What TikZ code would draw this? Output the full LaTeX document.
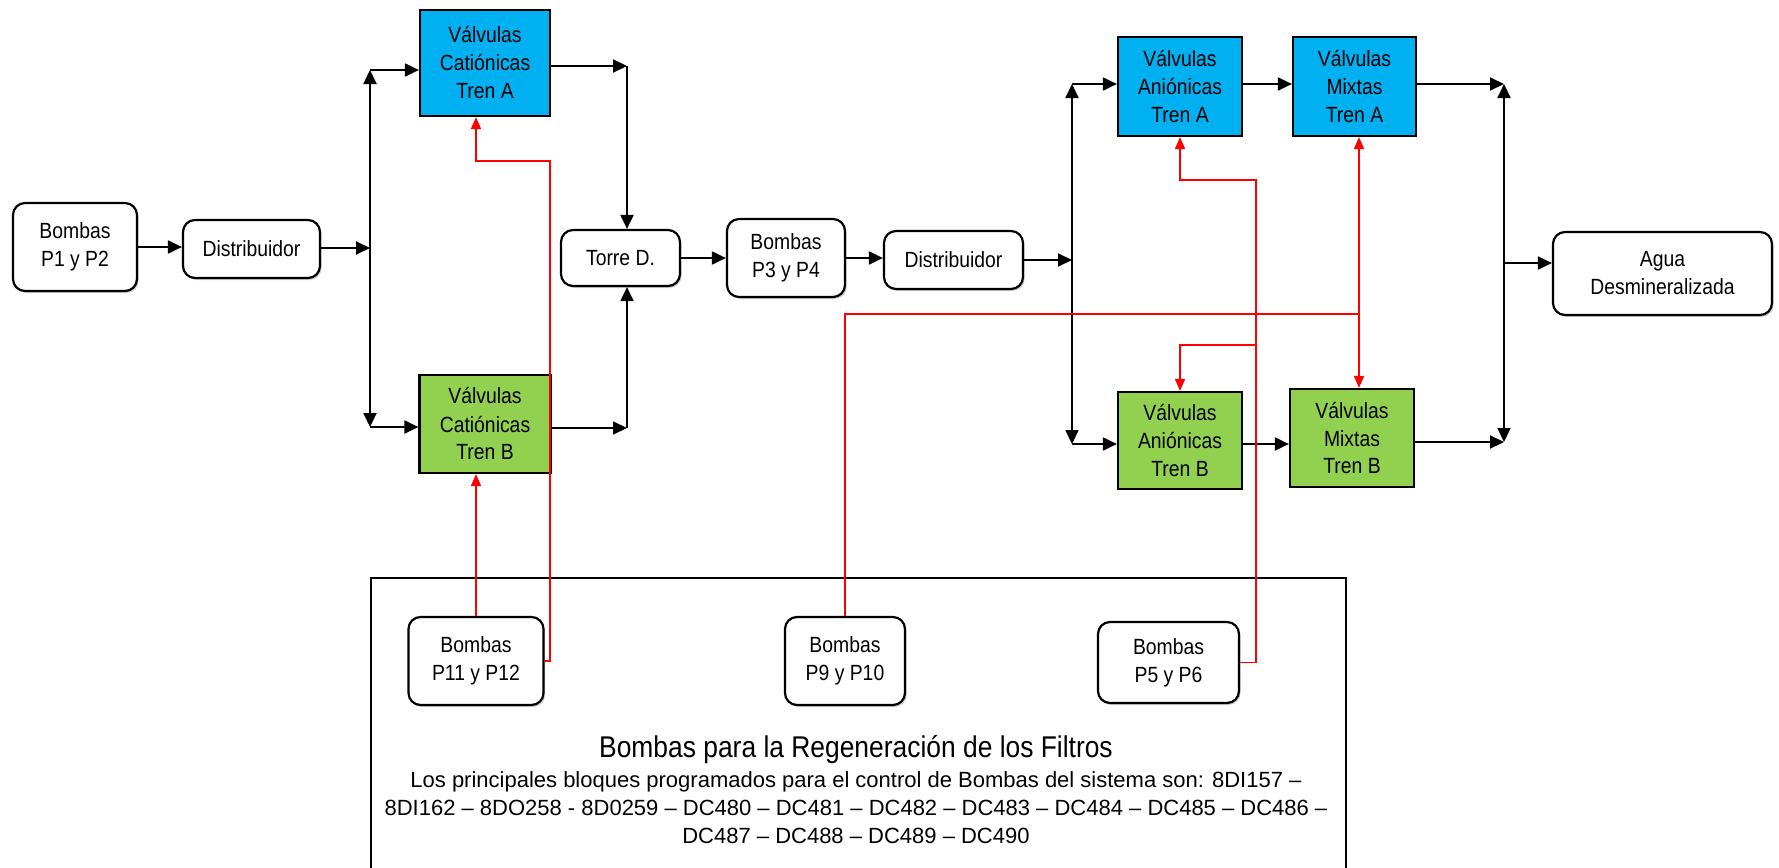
\documentclass[tikz,border=0pt]{standalone}
\usepackage{fontspec}
\setmainfont{Liberation Sans}[FakeStretch=0.88]
\newfontfamily\anchaf{Liberation Sans}
\usetikzlibrary{arrows.meta,shadows}
\definecolor{trenA}{HTML}{00B0F0}
\definecolor{trenB}{HTML}{92D050}
\begin{document}
\begin{tikzpicture}[x=0.5pt,y=-0.5pt,
  font=\fontsize{11}{14}\selectfont,
  caja/.style={draw,line width=1.1pt,rounded corners=6pt,fill=white,align=center,inner sep=0pt,
    drop shadow={shadow xshift=0.8pt,shadow yshift=-1pt,opacity=.4}},
  valv/.style={draw,line width=1.1pt,align=center,inner sep=0pt},
  flecha/.style={line width=1pt,-{Triangle[length=7pt,width=6.5pt]}},
  rlinea/.style={red,line width=0.8pt},
  rflecha/.style={rlinea,-{Triangle[length=6pt,width=5pt]}}]
  \useasboundingbox (0,0) rectangle (1779,868);
  \node[caja,minimum width=62pt,minimum height=44pt] (b12) at (75,247) {Bombas\\P1 y P2};
  \node[caja,minimum width=68.5pt,minimum height=29pt] (dist1) at (251.5,249) {Distribuidor};
  \node[valv,fill=trenA,minimum width=65pt,minimum height=53pt] (catA) at (485,63) {Válvulas\\Catiónicas\\Tren A};
  \node[valv,fill=trenB,minimum width=65.5pt,minimum height=49pt] (catB) at (485,424) {Válvulas\\Catiónicas\\Tren B};
  \node[caja,minimum width=59.5pt,minimum height=28pt] (torre) at (620.5,258) {Torre D.};
  \node[caja,minimum width=59pt,minimum height=39pt] (b34) at (786,258) {Bombas\\P3 y P4};
  \node[caja,minimum width=69.5pt,minimum height=29pt] (dist2) at (953.5,260) {Distribuidor};
  \node[valv,fill=trenA,minimum width=62pt,minimum height=49.5pt] (anA) at (1180,86.5) {Válvulas\\Aniónicas\\Tren A};
  \node[valv,fill=trenA,minimum width=61.5pt,minimum height=49.5pt] (mixA) at (1354.5,86.5) {Válvulas\\Mixtas\\Tren A};
  \node[valv,fill=trenB,minimum width=62pt,minimum height=48.5pt] (anB) at (1180,440.5) {Válvulas\\Aniónicas\\Tren B};
  \node[valv,fill=trenB,minimum width=62pt,minimum height=49pt] (mixB) at (1352,438) {Válvulas\\Mixtas\\Tren B};
  \node[caja,minimum width=109.5pt,minimum height=41.5pt] (agua) at (1662.5,273.5) {Agua\\Desmineralizada};

  \node[draw,line width=1pt,anchor=north west,minimum width=487.5pt,minimum height=152pt] (panel) at (370,577) {};
  \node[caja,minimum width=67.5pt,minimum height=44pt] (b1112) at (476,661) {Bombas\\P11 y P12};
  \node[caja,minimum width=60pt,minimum height=44pt] (b910) at (845,661) {Bombas\\P9 y P10};
  \node[caja,minimum width=70.5pt,minimum height=40.5pt] (b56) at (1168.5,662.5) {Bombas\\P5 y P6};
  \node (titulo) at (856,750) {\fontsize{15}{18}\selectfont Bombas para la Regeneración de los Filtros};
  \node[align=center,font=\anchaf\fontsize{11}{14}\selectfont] (bloques) at (856,808) {Los principales bloques programados para el control de Bombas del sistema son: 8DI157 –\\
    8DI162 – 8DO258 - 8D0259 – DC480 – DC481 – DC482 – DC483 – DC484 – DC485 – DC486 –\\
    DC487 – DC488 – DC489 – DC490};

  \coordinate (s1) at (370,248);
  \coordinate (s1t) at (370,70);
  \coordinate (s1b) at (370,427);
  \coordinate (t1) at (627,66);
  \coordinate (t2) at (627,428);
  \coordinate (s2) at (1072,260);
  \coordinate (s2t) at (1072,84);
  \coordinate (s2b) at (1072,444);
  \coordinate (mc) at (1504,263);
  \coordinate (mt) at (1504,84);
  \coordinate (mb) at (1504,442);
  \coordinate (r1) at (550,161);
  \coordinate (j9) at (1359,314);
  \coordinate (r4) at (1256,180);
  \coordinate (r4b) at (1256,345);

  \draw[flecha] (b12) -- (dist1.west |- b12);
  \draw[flecha] (dist1.east |- s1) -- (s1);
  \draw[flecha] (s1) -- (s1t);
  \draw[flecha] (s1) -- (s1b);
  \draw[flecha] (s1t) -- (s1t -| catA.west);
  \draw[flecha] (s1b) -- (s1b -| catB.west);
  \draw[flecha] (catA.east |- t1) -- (t1);
  \draw[flecha] (t1) -- (t1 |- torre.north);
  \draw[flecha] (catB.east |- t2) -- (t2);
  \draw[flecha] (t2) -- (t2 |- torre.south);
  \draw[flecha] (torre) -- (b34);
  \draw[flecha] (b34.east) -- (b34.east -| dist2.west);
  \draw[flecha] (dist2) -- (s2);
  \draw[flecha] (s2) -- (s2t);
  \draw[flecha] (s2) -- (s2b);
  \draw[flecha] (s2t) -- (s2t -| anA.west);
  \draw[flecha] (s2b) -- (s2b -| anB.west);
  \draw[flecha] (anA.east |- s2t) -- (mixA.west |- s2t);
  \draw[flecha] (anB.east |- s2b) -- (mixB.west |- s2b);
  \draw[flecha] (mixA.east |- mt) -- (mt);
  \draw[flecha] (mixB.east |- mb) -- (mb);
  \draw[flecha] (mc) -- (mt);
  \draw[flecha] (mc) -- (mb);
  \draw[flecha] (mc) -- (mc -| agua.west);

  \draw[rflecha] (b1112.east) -| (r1) -| (b1112.north |- catA.south);
  \draw[rflecha] (b1112.north) -- (b1112.north |- catB.south);
  \draw[rlinea] (b910.north) |- (j9);
  \draw[rflecha] (j9) -- (j9 |- mixA.south);
  \draw[rflecha] (j9) -- (j9 |- mixB.north);
  \draw[rflecha] (b56.east) -| (r4) -| (anA.south);
  \draw[rflecha] (r4b) -| (anB.north);
\end{tikzpicture}
\end{document}
